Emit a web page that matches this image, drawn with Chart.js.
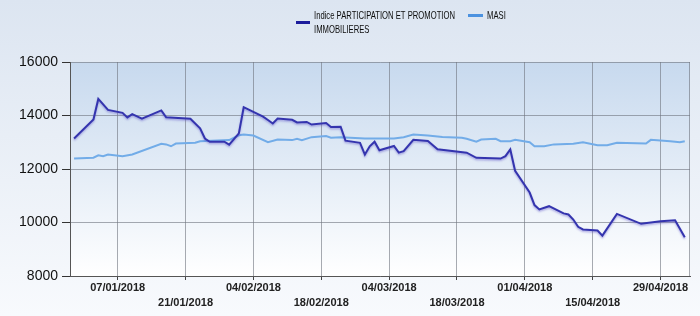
<!DOCTYPE html>
<html>
<head>
<meta charset="utf-8">
<script src="https://cdn.jsdelivr.net/npm/chart.js@4.4.1/dist/chart.umd.min.js"></script>
<style>
  html, body { margin: 0; padding: 0; background: #ffffff; }
  #c { display: block; }
</style>
</head>
<body>
<canvas id="c" width="700" height="316"></canvas>
<script>
// ---- data ----
const indiceLabel = 'Indice PARTICIPATION ET PROMOTION IMMOBILIERES';
const masiLabel = 'MASI';

const indiceDates = ['29/12/2017','02/01/2018','03/01/2018','05/01/2018','08/01/2018','09/01/2018','10/01/2018','12/01/2018',
  '16/01/2018','17/01/2018','22/01/2018','24/01/2018','25/01/2018','26/01/2018','29/01/2018','30/01/2018',
  '01/02/2018','02/02/2018','06/02/2018','07/02/2018','08/02/2018','09/02/2018','12/02/2018','13/02/2018',
  '15/02/2018','16/02/2018','19/02/2018','20/02/2018','22/02/2018','23/02/2018','26/02/2018','27/02/2018',
  '28/02/2018','01/03/2018','02/03/2018','05/03/2018','06/03/2018','07/03/2018','09/03/2018','12/03/2018',
  '14/03/2018','20/03/2018','22/03/2018','27/03/2018','28/03/2018','29/03/2018','30/03/2018','02/04/2018',
  '03/04/2018','04/04/2018','06/04/2018','09/04/2018','10/04/2018','11/04/2018','12/04/2018','13/04/2018',
  '16/04/2018','17/04/2018','20/04/2018','25/04/2018','29/04/2018','02/05/2018','04/05/2018'];
const indiceValues = [13140,13850,14620,14210,14100,13930,14050,13880,
  14190,13930,13880,13520,13140,13020,13020,12910,
  13330,14310,13960,13830,13700,13890,13840,13740,
  13760,13660,13720,13570,13580,13060,12980,12540,
  12850,13020,12700,12860,12610,12670,13090,13050,
  12740,12610,12420,12390,12480,12730,11930,11120,
  10650,10490,10610,10340,10300,10110,9840,9740,
  9700,9510,10320,9950,10050,10080,9450];

const masiDates = ['29/12/2017','02/01/2018','03/01/2018','04/01/2018','05/01/2018','08/01/2018','10/01/2018','16/01/2018',
  '17/01/2018','18/01/2018','19/01/2018','23/01/2018','24/01/2018','30/01/2018','01/02/2018','02/02/2018',
  '04/02/2018','07/02/2018','09/02/2018','12/02/2018','13/02/2018','14/02/2018','16/02/2018','19/02/2018',
  '20/02/2018','22/02/2018','27/02/2018','05/03/2018','07/03/2018','09/03/2018','12/03/2018','15/03/2018',
  '19/03/2018','20/03/2018','22/03/2018','23/03/2018','26/03/2018','27/03/2018','29/03/2018','30/03/2018',
  '02/04/2018','03/04/2018','05/04/2018','07/04/2018','11/04/2018','13/04/2018','16/04/2018','18/04/2018',
  '20/04/2018','26/04/2018','27/04/2018','01/05/2018','03/05/2018','04/05/2018'];
const masiValues = [12390,12420,12510,12480,12540,12480,12540,12940,
  12920,12850,12950,12980,13040,13080,13260,13290,
  13250,13000,13100,13080,13130,13080,13190,13230,
  13170,13190,13140,13140,13190,13290,13250,13200,
  13170,13130,13020,13100,13130,13040,13040,13090,
  13000,12850,12850,12920,12940,13000,12890,12890,
  12980,12950,13090,13040,13000,13040];

const tickLabels = ['07/01/2018','21/01/2018','04/02/2018','18/02/2018','04/03/2018','18/03/2018','01/04/2018','15/04/2018','29/04/2018'];
const yTicks = [8000, 10000, 12000, 14000, 16000];

// ---- helpers ----
function dayNum(s) {
  const p = s.split('/').map(Number);
  return Math.round((Date.UTC(p[2], p[1] - 1, p[0]) - Date.UTC(2018, 0, 1)) / 864e5);
}
function fmtDay(v) {
  const d = new Date(Date.UTC(2018, 0, 1) + v * 864e5);
  const dd = String(d.getUTCDate()).padStart(2, '0');
  const mm = String(d.getUTCMonth() + 1).padStart(2, '0');
  return dd + '/' + mm + '/' + d.getUTCFullYear();
}
const tickDays = tickLabels.map(dayNum);
const indicePts = indiceDates.map((d, i) => ({ x: dayNum(d), y: indiceValues[i] }));
const masiPts = masiDates.map((d, i) => ({ x: dayNum(d), y: masiValues[i] }));

const DARK = '#3434ae';
const LIGHT = '#72ace8';

const bgPlugin = {
  id: 'bg',
  beforeDraw(chart) {
    const ctx = chart.ctx, a = chart.chartArea;
    ctx.save();
    let g = ctx.createLinearGradient(0, 0, 0, chart.height);
    g.addColorStop(0, '#dce5f1');
    g.addColorStop(1, '#f8fafd');
    ctx.fillStyle = g;
    ctx.fillRect(0, 0, chart.width, chart.height);
    g = ctx.createLinearGradient(0, a.top, 0, a.bottom);
    g.addColorStop(0, '#c7d9ee');
    g.addColorStop(1, '#ffffff');
    ctx.fillStyle = g;
    ctx.fillRect(a.left, a.top, a.right - a.left, a.bottom - a.top);
    ctx.restore();
  },
  beforeDatasetsDraw(chart) {
    const ctx = chart.ctx, a = chart.chartArea;
    ctx.save();
    ctx.strokeStyle = 'rgba(110,115,125,0.6)';
    ctx.lineWidth = 1;
    ctx.beginPath();
    ctx.moveTo(Math.round(a.right) - 0.5, a.top);
    ctx.lineTo(Math.round(a.right) - 0.5, a.bottom);
    ctx.stroke();
    ctx.restore();
  },
  beforeDatasetDraw(chart, args) {
    if (args.index === 0) {
      const ctx = chart.ctx;
      ctx.save();
      ctx.shadowColor = 'rgba(90,80,200,0.45)';
      ctx.shadowOffsetY = 1.5;
      ctx.shadowBlur = 2;
    }
  },
  afterDatasetDraw(chart, args) {
    if (args.index === 0) chart.ctx.restore();
  },
  afterDraw(chart) {
    const ctx = chart.ctx;
    ctx.save();
    ctx.textBaseline = 'middle';
    ctx.textAlign = 'left';
    ctx.font = '11px "Liberation Sans", Arial, sans-serif';
    ctx.fillStyle = '#0d0d0d';
    const l1 = 'Indice PARTICIPATION ET PROMOTION';
    const l2 = 'IMMOBILIERES';
    const sx = 141 / ctx.measureText(l1).width;
    // swatches
    ctx.lineWidth = 3;
    ctx.strokeStyle = '#1c1c9c';
    ctx.beginPath(); ctx.moveTo(296, 22.5); ctx.lineTo(310, 22.5); ctx.stroke();
    ctx.strokeStyle = '#4c92e0';
    ctx.beginPath(); ctx.moveTo(468, 15.5); ctx.lineTo(483, 15.5); ctx.stroke();
    // texts (horizontally condensed)
    const drawTxt = (t, x, y) => {
      ctx.save(); ctx.translate(x, y); ctx.scale(sx, 1); ctx.fillText(t, 0, 0); ctx.restore();
    };
    drawTxt(l1, 314, 16);
    drawTxt(l2, 314, 29.5);
    drawTxt(masiLabel, 487, 16);
    ctx.restore();
  }
};

new Chart(document.getElementById('c'), {
  type: 'line',
  data: {
    datasets: [
      { label: indiceLabel, data: indicePts, borderColor: DARK, borderWidth: 2, pointRadius: 0, tension: 0, fill: false },
      { label: masiLabel, data: masiPts, borderColor: LIGHT, borderWidth: 2, pointRadius: 0, tension: 0, fill: false }
    ]
  },
  options: {
    responsive: false,
    animation: false,
    devicePixelRatio: 1,
    layout: { padding: { top: 62, right: 10, bottom: 0, left: 0 } },
    plugins: { legend: { display: false }, tooltip: { enabled: false } },
    scales: {
      x: {
        type: 'linear',
        min: -3.84,
        max: 124.08,
        afterBuildTicks(scale) { scale.ticks = tickDays.map(v => ({ value: v })); },
        afterFit(scale) { scale.height = 40; },
        ticks: {
          autoSkip: false,
          maxRotation: 0,
          padding: 0,
          color: '#222',
          font: { family: '"Liberation Sans", Arial, sans-serif', size: 11, weight: 'bold', lineHeight: 15 / 11 },
          callback(v, i) { const t = fmtDay(v); return i % 2 === 0 ? t : ['', t]; }
        },
        grid: { color: 'rgba(110,115,125,0.6)', tickColor: '#444', tickLength: 4, lineWidth: 1 },
        border: { color: '#555', width: 1 }
      },
      y: {
        min: 8000,
        max: 16000,
        afterBuildTicks(scale) { scale.ticks = yTicks.map(v => ({ value: v })); },
        afterFit(scale) { scale.width = 70; },
        ticks: {
          padding: 4,
          color: '#111',
          font: { family: '"Liberation Sans", Arial, sans-serif', size: 14 },
          callback(v) { return String(v); }
        },
        grid: { color: 'rgba(110,115,125,0.6)', tickColor: '#333', tickLength: 8, lineWidth: 1 },
        border: { color: '#555', width: 1 }
      }
    }
  },
  plugins: [bgPlugin]
});
</script>
</body>
</html>
